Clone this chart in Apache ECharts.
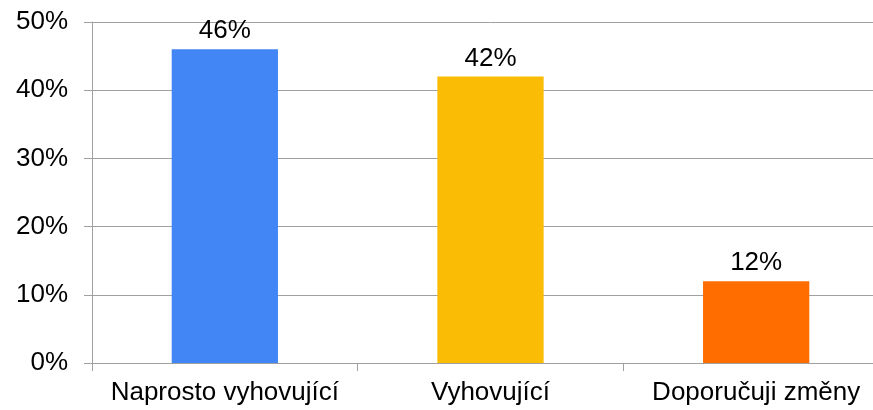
<!DOCTYPE html>
<html>
<head>
<meta charset="UTF-8">
<title>Hodnocení</title>
<script src="https://cdn.jsdelivr.net/npm/echarts@6/dist/echarts.min.js"></script>
<style>
    html,body{margin:0;padding:0;background:#fff;overflow:hidden;}
    #chart{width:889px;height:410px;}
</style>
</head>
<body>
<div id="chart"></div>
<script>
var categories = ['Naprosto vyhovující', 'Vyhovující', 'Doporučuji změny'];
var values = [46, 42, 12];
var barColors = ['#4285f4', '#fbbc05', '#ff6d00'];

var chart = echarts.init(document.getElementById('chart'));
var font = 'Liberation Sans, Arial, sans-serif';

// plot runs past the right edge of the picture, as in the original
var option = {
    animation: false,
    grid: { left: 92, right: 0, top: 22, bottom: 47 },
    xAxis: {
        type: 'category',
        data: categories,
        axisLine: { lineStyle: { color: '#a0a0a0', width: 1 } },
        axisTick: { show: true, length: 8, lineStyle: { color: '#a0a0a0' } },
        axisLabel: { color: '#000', fontSize: 26, fontFamily: font, margin: 17, interval: 0 }
    },
    yAxis: {
        type: 'value',
        min: 0,
        max: 50,
        interval: 10,
        axisLine: { show: true, lineStyle: { color: '#a0a0a0', width: 1 } },
        axisTick: { show: true, length: 8, lineStyle: { color: '#a0a0a0' } },
        axisLabel: { color: '#000', fontSize: 26, fontFamily: font, margin: 24, formatter: '{value}%' },
        splitLine: { lineStyle: { color: '#a0a0a0', width: 1 } }
    },
    series: [{
        type: 'bar',
        barWidth: '40%',
        data: values.map(function (v, i) {
            return { value: v, itemStyle: { color: barColors[i] } };
        }),
        label: {
            show: true,
            position: 'top',
            distance: 5,
            color: '#000',
            fontSize: 26,
            fontFamily: font,
            formatter: '{c}%'
        }
    }]
};

chart.setOption(option);
</script>
</body>
</html>
